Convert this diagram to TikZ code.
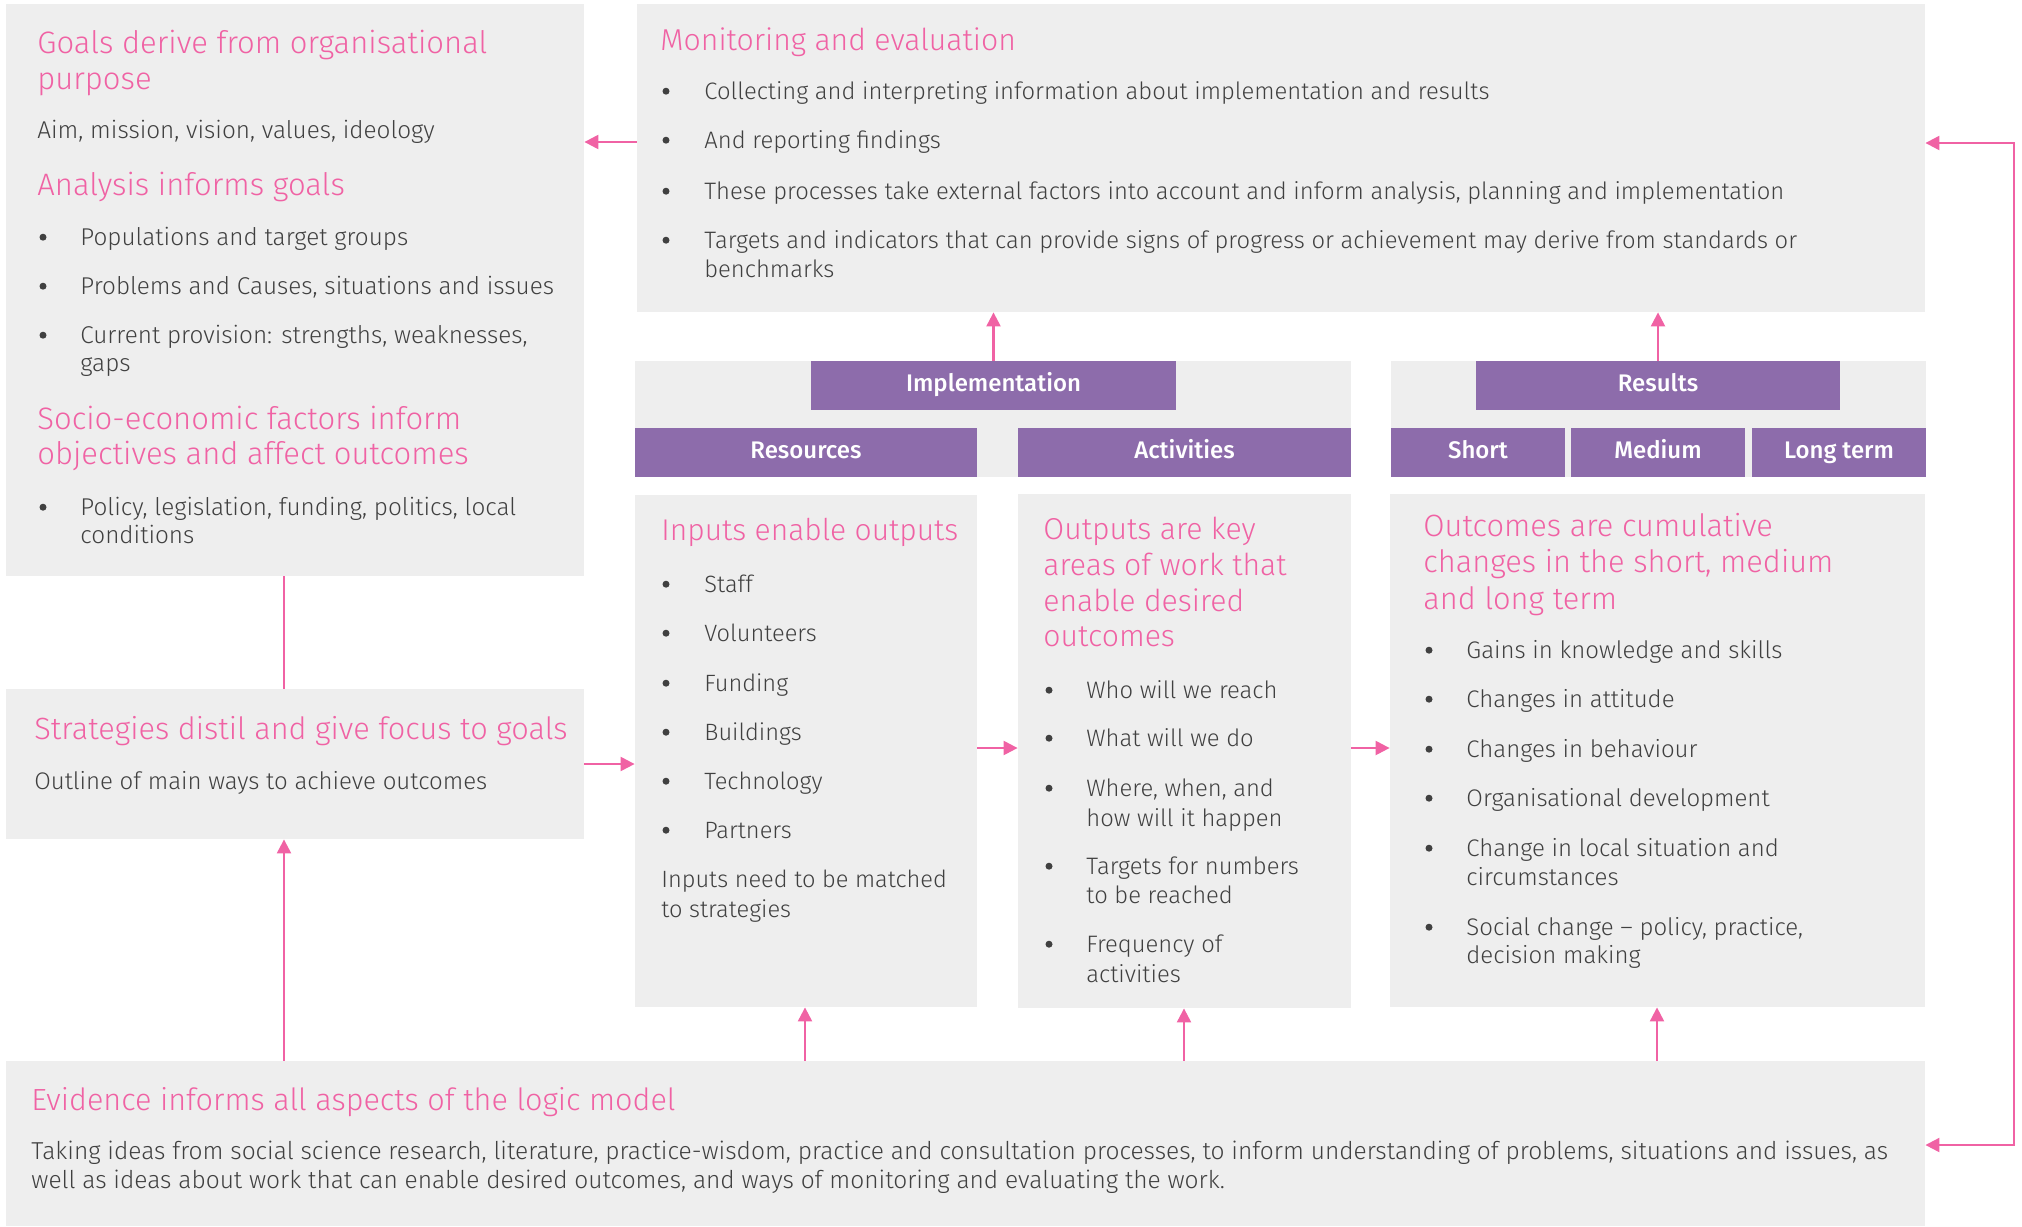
\documentclass[tikz,border=0pt]{standalone}
\usepackage{fontspec}
\IfFontExistsTF{Fira Sans Light}{\setmainfont{Fira Sans Light}}{\setmainfont{Fira Sans}}
\IfFontExistsTF{Fira Sans Medium}{\newfontfamily\barfont{Fira Sans Medium}}{\newfontfamily\barfont{Fira Sans}[UprightFont=*-Bold]}
\usetikzlibrary{fit,arrows.meta}
\definecolor{boxgray}{RGB}{238,238,238}
\definecolor{pinkc}{RGB}{240,98,164}
\definecolor{purp}{RGB}{141,108,171}
\definecolor{txt}{RGB}{64,64,64}
\tikzset{
  box/.style={fill=boxgray, draw=none, inner sep=0pt},
  bar/.style={fill=purp, draw=none, inner sep=0pt},
  bartext/.style={text=white, inner sep=0pt, text height=8.6pt, text depth=2.6pt, font=\barfont\fontsize{12}{14}\selectfont},
  hdst/.style={anchor=base west, inner sep=0pt, text=pinkc},
  bdst/.style={anchor=base west, inner sep=0pt, text=txt},
  bult/.style={circle, fill=txt, inner sep=0pt, minimum size=3.5pt, yshift=3.9pt},
  arr/.style={draw=pinkc, line width=1.1pt, -{Triangle[length=7pt,width=7pt]}},
  arrb/.style={draw=pinkc, line width=1.1pt, {Triangle[length=7pt,width=7pt]}-{Triangle[length=7pt,width=7pt]}},
  lnk/.style={draw=pinkc, line width=1.1pt}
}
\newcommand\hdl[5][15.1]{\node[hdst, font=\fontsize{#1}{18}\selectfont] (#2) at (#3,#4) {#5};}
\newcommand\bdl[5][11.9]{\node[bdst, font=\fontsize{#1}{14}\selectfont] (#2) at (#3,#4) {#5};}
% [size] name, bullet x, text x, y, text
\newcommand\bli[6][11.9]{\node[bult] (#2b) at (#3,#5) {}; \node[bdst, font=\fontsize{#1}{14}\selectfont] (#2) at (#4,#5) {#6};}
\begin{document}
\begin{tikzpicture}[x=0.5pt,y=-0.5pt]
\useasboundingbox (0,0) rectangle (2022,1226);
% boxes
\node[box, fit={(6,4) (584,576)}] (goals) {};
\node[box, fit={(637,4) (1925,312)}] (me) {};
\node[box, fit={(6,689) (584,839)}] (strat) {};
\node[box, fit={(635,361) (1351,477)}] (implband) {};
\node[box, fit={(1391,361) (1926,477)}] (resband) {};
\node[box, fit={(635,495) (977,1007)}] (res) {};
\node[box, fit={(1018,494) (1351,1008)}] (act) {};
\node[box, fit={(1390,494) (1925,1007)}] (out) {};
\node[box, fit={(6,1061) (1925,1226)}] (ev) {};
% purple bars
\node[bar, fit={(811,361) (1176,410)}] (impl) {};
\node[bartext] (implt) at (impl.center) {Implementation};
\node[bar, fit={(635,428) (977,477)}] (resbar) {};
\node[bartext] (resbart) at (resbar.center) {Resources};
\node[bar, fit={(1018,428) (1351,477)}] (actbar) {};
\node[bartext] (actbart) at (actbar.center) {Activities};
\node[bar, fit={(1476,361) (1840,410)}] (results) {};
\node[bartext] (resultst) at (results.center) {Results};
\node[bar, fit={(1391,428) (1565,477)}] (short) {};
\node[bartext] (shortt) at (short.center) {Short};
\node[bar, fit={(1571,428) (1745,477)}] (medium) {};
\node[bartext] (mediumt) at (medium.center) {Medium};
\node[bar, fit={(1752,428) (1926,477)}] (long) {};
\node[bartext] (longt) at (long.center) {Long term};
% goals text
\hdl[15.5]{g1}{37}{54}{Goals derive from organisational}
\hdl[15.5]{g2}{37}{89}{purpose}
\bdl[12.15]{g3}{37}{138}{Aim, mission, vision, values, ideology}
\hdl[15.5]{g4}{37}{195}{Analysis informs goals}
\bli[12.15]{g5}{43}{80}{245}{Populations and target groups}
\bli[12.15]{g6}{43}{80}{294}{Problems and Causes, situations and issues}
\bli[12.15]{g7}{43}{80}{343}{Current provision: strengths, weaknesses,}
\bdl[12.15]{g8}{80}{371}{gaps}
\hdl[15.5]{g9}{37}{429}{Socio-economic factors inform}
\hdl[15.5]{g10}{37}{464}{objectives and affect outcomes}
\bli[12.15]{g11}{43}{80}{515}{Policy, legislation, funding, politics, local}
\bdl[12.15]{g12}{80}{543}{conditions}
% monitoring text
\hdl{m1}{660}{50}{Monitoring and evaluation}
\bli{m2}{666}{704}{99}{Collecting and interpreting information about implementation and results}
\bli{m3}{666}{704}{148}{And reporting findings}
\bli{m4}{666}{704}{199}{These processes take external factors into account and inform analysis, planning and implementation}
\bli{m5}{666}{704}{248}{Targets and indicators that can provide signs of progress or achievement may derive from standards or}
\bdl{m6}{704}{277}{benchmarks}
% resources text
\hdl[15.0]{r1}{661}{540}{Inputs enable outputs}
\bli[11.8]{r2}{666}{704}{592}{Staff}
\bli[11.8]{r3}{666}{704}{641}{Volunteers}
\bli[11.8]{r4}{666}{704}{691}{Funding}
\bli[11.8]{r5}{666}{704}{740}{Buildings}
\bli[11.8]{r6}{666}{704}{789}{Technology}
\bli[11.8]{r7}{666}{704}{838}{Partners}
\bdl[11.8]{r8}{661}{887}{Inputs need to be matched}
\bdl[11.8]{r9}{661}{917}{to strategies}
% activities text
\hdl{a1}{1043}{539}{Outputs are key}
\hdl{a2}{1043}{575}{areas of work that}
\hdl{a3}{1043}{611}{enable desired}
\hdl{a4}{1043}{646}{outcomes}
\bli{a5}{1049}{1086}{698}{Who will we reach}
\bli{a6}{1049}{1086}{746}{What will we do}
\bli{a7}{1049}{1086}{796}{Where, when, and}
\bdl{a8}{1086}{826}{how will it happen}
\bli{a9}{1049}{1086}{874}{Targets for numbers}
\bdl{a10}{1086}{903}{to be reached}
\bli{a11}{1049}{1086}{952}{Frequency of}
\bdl{a12}{1086}{982}{activities}
% outcomes text
\hdl[15.4]{o1}{1423}{536}{Outcomes are cumulative}
\hdl[15.4]{o2}{1423}{572}{changes in the short, medium}
\hdl[15.4]{o3}{1423}{609}{and long term}
\bli[12.0]{o4}{1429}{1466}{658}{Gains in knowledge and skills}
\bli[12.0]{o5}{1429}{1466}{707}{Changes in attitude}
\bli[12.0]{o6}{1429}{1466}{757}{Changes in behaviour}
\bli[12.0]{o7}{1429}{1466}{806}{Organisational development}
\bli[12.0]{o8}{1429}{1466}{856}{Change in local situation and}
\bdl[12.0]{o9}{1466}{885}{circumstances}
\bli[12.0]{o10}{1429}{1466}{935}{Social change – policy, practice,}
\bdl[12.0]{o11}{1466}{963}{decision making}
% strategies text
\hdl[15.35]{s1}{34}{739}{Strategies distil and give focus to goals}
\bdl[12.0]{s2}{34}{789}{Outline of main ways to achieve outcomes}
% evidence text
\hdl[15.3]{e1}{31}{1110}{Evidence informs all aspects of the logic model}
\bdl[12.25]{e2}{31}{1159}{Taking ideas from social science research, literature, practice-wisdom, practice and consultation processes, to inform understanding of problems, situations and issues, as}
\bdl[12.25]{e3}{31}{1188}{well as ideas about work that can enable desired outcomes, and ways of monitoring and evaluating the work.}
% connectors
\draw[arr] (me.west |- 0,142) -- (goals.east |- 0,142);
\draw[lnk] (284,0 |- goals.south) -- (284,0 |- strat.north);
\draw[arr] (strat.east) -- (res.west |- strat.east);
\draw[arr] (res.east |- 0,748) -- (act.west |- 0,748);
\draw[arr] (act.east |- 0,748) -- (out.west |- 0,748);
\draw[arr] (impl.north) -- (impl.north |- me.south);
\draw[arr] (results.north) -- (results.north |- me.south);
\draw[arr] (284,0 |- ev.north) -- (284,0 |- strat.south);
\draw[arr] (805,0 |- ev.north) -- (805,0 |- res.south);
\draw[arr] (1184,0 |- ev.north) -- (1184,0 |- act.south);
\draw[arr] (1657,0 |- ev.north) -- (1657,0 |- out.south);
\draw[arrb] (me.east |- 0,143) -- (2014,143) -- (2014,1145) -- (ev.east |- 0,1145);
\end{tikzpicture}
\end{document}
